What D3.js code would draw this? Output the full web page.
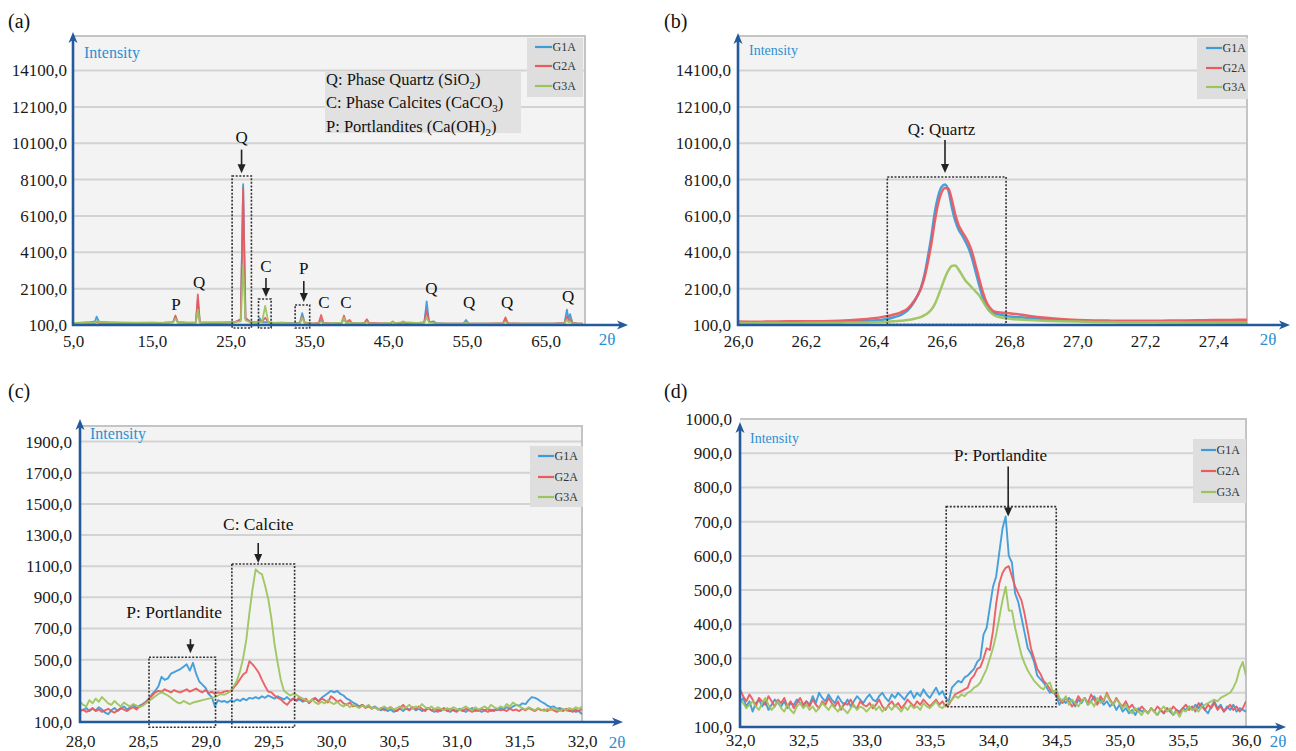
<!DOCTYPE html>
<html><head><meta charset="utf-8">
<script src="https://cdn.jsdelivr.net/npm/d3@7"></script>
<style>
body{margin:0;background:#fff;}
svg{display:block;}
text{font-family:"Liberation Serif","Tinos","Times New Roman",serif;}
</style></head><body>
<svg id="chart" width="1296" height="751"></svg>
<script>
// ---------------- DATA ----------------
const seriesNames = ["G1A","G2A","G3A"];

// (a) full pattern 5-70 2θ
const aTheta = [5,6,7,7.8,8,8.3,9.5,11,13,15, 16.5,17.7,18,18.3,19.5,20.6,20.85,21.1,22.5,24, 25.5,26.3,26.6,26.9,27.5,28.4,28.7,29,29.4,29.8, 30.5,31.5,33,33.8,34.1,34.4,35.5,36.2,36.5,36.8, 38,39.1,39.4,39.7,40.1,40.4,41.5,42,42.3,42.6, 44,45.3,45.6,45.9,46.6,46.9,47.2,48.5,49.6,49.9, 50.2,50.8,51.1,52.5,54.6,54.9,55.2,57.5,59.6,59.9, 60.2,62,64,66,67.4,67.7,67.9,68.1,68.4,69, 69.7];
const aG1A = [200,230,250,300,560,280,240,220,210,220, 230,260,560,250,230,240,1500,240,220,230, 250,400,7850,450,260,230,480,250,260,240, 210,230,200,230,750,240,180,200,380,200, 190,220,420,220,250,200,190,210,300,200, 180,200,250,200,210,240,220,200,240,1400, 260,300,200,180,190,380,190,170,190,380, 190,170,180,170,200,950,450,700,220,180, 170];
const aG2A = [180,190,200,220,260,210,200,190,200,190, 200,250,620,240,210,230,1780,230,210,220, 240,420,7650,500,270,220,310,280,500,250, 200,190,180,200,570,230,180,220,650,210, 180,230,620,240,380,210,180,220,420,210, 190,190,300,190,200,250,210,190,250,900, 280,260,190,170,180,250,180,170,200,520, 200,180,170,180,220,560,350,420,230,190, 180];
const aG3A = [220,210,220,240,320,250,260,240,230,240, 220,240,460,230,220,250,950,240,260,250, 260,300,3400,350,250,250,260,260,1150,260, 220,210,190,190,510,220,170,190,300,190, 200,230,500,210,240,200,200,200,280,190, 180,210,280,200,240,300,260,210,230,500, 240,220,190,180,190,260,180,180,190,300, 180,170,180,170,190,400,250,280,200,180, 170];
const aXTicks = [5,15,25,35,45,55,65];
const aYTicks = [100,2100,4100,6100,8100,10100,12100,14100];

// (b) quartz peak 26-27.5
const bTheta = [26,26.05,26.1,26.15,26.2,26.25,26.3,26.35,26.4,26.43, 26.46,26.48,26.5,26.52,26.53,26.54,26.55,26.56,26.57,26.58, 26.59,26.6,26.61,26.62,26.63,26.64,26.65,26.66,26.67,26.68, 26.69,26.7,26.71,26.72,26.73,26.74,26.75,26.76,26.78,26.8, 26.83,26.86,26.9,26.95,27,27.05,27.1,27.15,27.2,27.25, 27.3,27.35,27.4,27.45,27.5];
const bG1A = [230,240,235,245,250,260,270,300,350,400, 530,660,900,1400,1750,2200,2900,3900,5000,6300, 7200,7700,7830,7500,6600,5850,5350,5050,4700,4300, 3750,3050,2350,1700,1200,900,780,720,640,570, 520,480,430,370,330,300,290,280,275,270, 265,260,260,255,255];
const bG2A = [290,280,290,300,300,310,340,390,470,560, 680,800,1000,1450,1750,2150,2750,3600,4600,5800, 6800,7400,7640,7600,7000,6200,5600,5250,4950,4600, 4100,3400,2700,2000,1450,1100,900,820,780,740, 680,600,510,430,380,350,340,335,330,340, 345,355,370,380,390];
const bG3A = [220,215,220,210,220,225,230,235,250,270, 300,330,370,440,490,550,640,760,950,1250, 1700,2200,2700,3100,3350,3380,3150,2850,2550,2350, 2150,1950,1750,1450,1150,900,700,590,500,450, 400,370,340,310,290,270,260,255,250,245, 245,240,240,240,240];
const bXTicks = [26,26.2,26.4,26.6,26.8,27,27.2,27.4];
const bYTicks = [100,2100,4100,6100,8100,10100,12100,14100];

// (c) 28-32
const cTheta = [28,28.025,28.05,28.075,28.1,28.125,28.15,28.175,28.2,28.225,28.25,28.275,28.3,28.325,28.35,28.375,28.4,28.425,28.45,28.475,
28.5,28.525,28.55,28.575,28.6,28.625,28.65,28.675,28.7,28.725,28.75,28.775,28.8,28.825,28.85,28.875,28.9,28.925,28.95,28.975,
29,29.025,29.05,29.075,29.1,29.125,29.15,29.175,29.2,29.225,29.25,29.275,29.3,29.325,29.35,29.375,29.4,29.425,29.45,29.475,
29.5,29.525,29.55,29.575,29.6,29.625,29.65,29.675,29.7,29.725,29.75,29.775,29.8,29.825,29.85,29.875,29.9,29.925,29.95,29.975,
30,30.025,30.05,30.075,30.1,30.125,30.15,30.175,30.2,30.225,30.25,30.275,30.3,30.325,30.35,30.375,30.4,30.425,30.45,30.475,
30.5,30.525,30.55,30.575,30.6,30.625,30.65,30.675,30.7,30.725,30.75,30.775,30.8,30.825,30.85,30.875,30.9,30.925,30.95,30.975,
31,31.025,31.05,31.075,31.1,31.125,31.15,31.175,31.2,31.225,31.25,31.275,31.3,31.325,31.35,31.375,31.4,31.425,31.45,31.475,
31.5,31.525,31.55,31.575,31.6,31.625,31.65,31.675,31.7,31.725,31.75,31.775,31.8,31.825,31.85,31.875,31.9,31.925,31.95,31.975,
32];
const cG1A = [180,175,190,170,185,175,195,180,160,150,175,190,170,185,200,180,195,210,190,205,
215,230,250,280,300,330,390,370,380,410,420,430,440,455,470,430,480,410,360,340,
320,280,260,200,240,230,235,225,240,230,245,235,250,240,255,250,260,250,265,255,
270,260,250,265,255,245,260,240,250,235,245,230,240,225,240,250,235,255,270,285,
300,290,300,280,270,250,240,225,215,200,210,195,205,190,200,185,175,190,170,180,
165,175,185,170,190,180,195,175,185,170,180,190,175,165,180,170,185,175,165,180,
170,185,175,165,180,190,170,180,165,175,185,170,180,175,190,180,195,185,200,210,
205,220,215,240,260,255,245,230,220,205,195,200,185,190,180,175,170,180,165,170,
150];
const cG2A = [170,180,165,175,190,170,180,165,175,185,170,160,175,190,180,170,185,195,180,200,
210,225,250,270,290,300,295,310,300,290,305,295,290,300,310,295,305,315,300,290,
305,285,295,280,290,285,295,300,295,320,345,375,405,420,490,470,445,415,370,330,
295,290,270,255,245,225,210,235,250,240,260,235,250,220,245,255,230,250,240,225,
265,250,230,240,220,210,225,200,205,195,210,190,200,185,195,180,190,175,185,195,
180,170,190,210,185,175,195,180,200,185,170,190,175,185,165,180,190,170,185,175,
165,180,170,185,175,165,180,170,185,175,165,180,170,185,175,180,170,185,175,180,
170,185,175,190,180,170,185,175,180,170,185,175,165,180,170,185,175,165,180,170,
185];
const cG3A = [230,210,200,240,220,250,230,260,240,220,210,235,215,200,225,210,200,215,205,195,
205,220,235,250,265,280,290,280,270,255,240,225,220,235,225,215,225,230,235,240,
245,250,255,260,270,280,275,285,300,330,365,425,510,627,800,955,1080,1060,1048,975,
890,765,600,480,370,300,285,270,280,275,260,250,240,230,245,225,215,230,220,240,
225,215,230,210,200,215,195,210,200,190,205,195,210,185,195,180,190,200,185,195,
180,190,200,185,195,210,185,200,190,215,195,185,200,180,195,185,175,190,180,195,
185,175,190,200,185,175,195,180,190,200,185,210,195,185,200,190,215,200,225,210,
200,190,180,195,185,175,190,180,170,185,175,190,180,170,185,175,190,180,195,185,
200];
const cXTicks = [28,28.5,29,29.5,30,30.5,31,31.5,32];
const cYTicks = [100,300,500,700,900,1100,1300,1500,1700,1900];

// (d) 32-36
const dTheta = [32,32.025,32.05,32.075,32.1,32.125,32.15,32.175,32.2,32.225,32.25,32.275,32.3,32.325,32.35,32.375,32.4,32.425,32.45,32.475,
32.5,32.525,32.55,32.575,32.6,32.625,32.65,32.675,32.7,32.725,32.75,32.775,32.8,32.825,32.85,32.875,32.9,32.925,32.95,32.975,
33,33.025,33.05,33.075,33.1,33.125,33.15,33.175,33.2,33.225,33.25,33.275,33.3,33.325,33.35,33.375,33.4,33.425,33.45,33.475,
33.5,33.525,33.55,33.575,33.6,33.625,33.65,33.675,33.7,33.725,33.75,33.775,33.8,33.825,33.85,33.875,33.9,33.925,33.95,33.975,
34,34.025,34.05,34.075,34.1,34.125,34.15,34.175,34.2,34.225,34.25,34.275,34.3,34.325,34.35,34.375,34.4,34.425,34.45,34.475,
34.5,34.525,34.55,34.575,34.6,34.625,34.65,34.675,34.7,34.725,34.75,34.775,34.8,34.825,34.85,34.875,34.9,34.925,34.95,34.975,
35,35.025,35.05,35.075,35.1,35.125,35.15,35.175,35.2,35.225,35.25,35.275,35.3,35.325,35.35,35.375,35.4,35.425,35.45,35.475,
35.5,35.525,35.55,35.575,35.6,35.625,35.65,35.675,35.7,35.725,35.75,35.775,35.8,35.825,35.85,35.875,35.9,35.925,35.95,35.975,
36];
const dG1A = [170,185,160,175,145,170,180,160,175,150,165,180,170,160,175,155,170,165,180,170,
160,175,165,190,170,200,185,175,195,180,170,190,175,165,180,160,175,190,180,170,
185,195,180,175,190,200,185,175,195,185,200,190,180,195,205,185,200,190,210,195,
185,200,215,195,205,185,175,215,225,235,230,245,250,260,270,290,300,370,390,450,
510,540,610,680,715,600,580,490,465,420,375,330,315,290,250,240,230,215,200,205,
190,165,180,170,185,175,160,180,170,185,165,175,190,170,180,165,175,160,170,150,
165,145,155,140,150,135,155,145,150,140,155,145,135,150,140,155,145,135,150,145,
155,150,160,150,165,155,170,150,140,160,175,155,165,145,160,150,165,145,155,150,
145];
const dG2A = [210,190,175,195,180,160,185,175,165,190,175,160,180,170,185,160,175,155,170,185,
165,175,160,180,165,155,175,165,185,170,160,175,150,170,165,180,160,155,175,165,
160,170,155,165,180,160,150,165,175,160,170,155,165,180,170,160,175,165,180,170,
160,170,180,165,175,160,165,180,195,200,205,210,215,240,250,270,275,300,330,325,
380,460,520,550,565,570,540,510,490,470,430,380,330,300,270,255,235,225,210,200,
195,180,170,185,175,160,170,190,175,185,170,195,180,165,190,175,200,180,165,185,
170,160,175,155,165,150,145,160,150,140,155,145,160,150,140,155,145,160,150,140,
155,165,150,160,145,170,160,150,165,155,170,150,160,145,155,165,150,160,145,155,
175];
const dG3A = [180,170,155,165,175,160,150,170,185,165,150,160,175,155,145,165,150,140,160,170,
155,165,150,160,145,155,170,160,150,165,155,145,160,150,140,155,165,150,160,155,
145,155,165,150,160,145,155,160,150,165,155,145,160,150,165,155,160,150,170,160,
155,165,175,160,155,165,170,180,190,185,195,190,200,205,215,220,230,250,270,300,
330,370,420,470,510,440,440,390,350,310,285,265,250,235,225,215,210,225,230,200,
210,185,175,190,165,180,170,160,175,185,165,175,160,185,170,180,195,175,165,180,
170,155,165,150,140,155,145,135,150,140,155,145,135,150,160,145,155,135,145,130,
150,145,160,150,155,145,160,165,170,175,180,175,185,190,195,200,215,235,270,290,
250];
const dXTicks = [32,32.5,33,33.5,34,34.5,35,35.5,36];
const dYTicks = [100,200,300,400,500,600,700,800,900,1000];

// ---------------- STYLE / LAYOUT ----------------
const colors = {G1A:"#3d9bd7", G2A:"#ea5a5f", G3A:"#9cc45e"};
const axisColor = "#245a9c";
const blue = "#2e8fd0";
const serif = '"Liberation Serif","Tinos","Times New Roman",serif';
const fmt = v => d3.format(".1f")(v).replace(".", ",");

const panels = [
 {label:"(a)", lab:[8,21], theta:aTheta, series:[aG1A,aG2A,aG3A], xDomain:[5,70], yDomain:[100,16000],
  xRange:[73,585], yRange:[325,36], xTicks:aXTicks, yTicks:aYTicks, yTip:32, xTip:628, yPad:6, xPad:10,
  intensity:[84,58,16], twoTheta:[607,345], lw:1.8, curve:d3.curveLinear,
  legend:{x:527,y:38,w:56,h:59,l1:535,l2:552,rows:[47,66,86]},
  boxes:[[25.2,27.65,-65,8300],[28.55,30.15,-65,1530],[33.2,35.05,-65,1200]],
  texts:[["P",18.08,1255],["Q",21.0,2465],["Q",26.4,10440],["C",29.5,3345],["P",34.3,3235],["C",36.87,1365],["C",39.66,1365],["Q",50.5,2135],["Q",55.3,1365],["Q",60.1,1365],["Q",67.85,1695]],
  arrows:[[26.4,9750,8450],[29.5,2685,1640],[34.3,2520,1365]], textSize:17},
 {label:"(b)", lab:[664,21], theta:bTheta, series:[bG1A,bG2A,bG3A], xDomain:[26,27.5], yDomain:[100,16000],
  xRange:[738,1247], yRange:[325,36], xTicks:bXTicks, yTicks:bYTicks, yTip:33, xTip:1290, yPad:7, xPad:10,
  intensity:[749,55,14], twoTheta:[1268,345], lw:2.5, curve:d3.curveMonotoneX,
  legend:{x:1197,y:38,w:51,h:61,l1:1206,l2:1222,rows:[48,68,87]},
  boxes:[[26.44,26.79,120,8240]],
  texts:[["Q: Quartz",26.6,10880]],
  arrows:[[26.61,10276,8460]], textSize:17},
 {label:"(c)", lab:[8,391], theta:cTheta, series:[cG1A,cG2A,cG3A], xDomain:[28,32], yDomain:[100,2000],
  xRange:[80,582], yRange:[722,426], xTicks:cXTicks, yTicks:cYTicks, yTip:419, xTip:623, yPad:8, xPad:12.5,
  intensity:[90,439,16], twoTheta:[617,748], lw:1.9, curve:d3.curveLinear,
  legend:{x:530,y:446,w:53,h:61,l1:538,l2:554,rows:[456,477,497]},
  boxes:[[29.21,29.71,66,1114],[28.55,29.08,66,516]],
  texts:[["C: Calcite",29.42,1371],["P: Portlandite",28.75,805]],
  arrows:[[29.42,1249,1120],[28.88,632,542]], textSize:17.5},
 {label:"(d)", lab:[664,391], theta:dTheta, series:[dG1A,dG2A,dG3A], xDomain:[32,36], yDomain:[100,1000],
  xRange:[740,1246], yRange:[727,419], xTicks:dXTicks, yTicks:dYTicks, yTip:422, xTip:1286, yPad:8, xPad:6.5,
  intensity:[750,443,14], twoTheta:[1278,747], lw:1.9, curve:d3.curveLinear,
  legend:{x:1193,y:439,w:53,h:64,l1:1201,l2:1216,rows:[450,471,492]},
  boxes:[[33.63,34.5,159,744]],
  texts:[["P: Portlandite",34.06,896]],
  arrows:[[34.12,861,715]], textSize:17}
];

const svg = d3.select("#chart").style("font-family", serif);
const defs = svg.append("defs");

panels.forEach((p, pi) => {
  const x = d3.scaleLinear().domain(p.xDomain).range(p.xRange);
  const y = d3.scaleLinear().domain(p.yDomain).range(p.yRange);
  const [x0, x1] = p.xRange, [yb, yt] = p.yRange;
  const g = svg.append("g");

  g.append("rect").attr("x", x0).attr("y", yt).attr("width", x1 - x0).attr("height", yb - yt).attr("fill", "#f3f3f3");
  g.selectAll("line.grid").data(p.yTicks.filter(t => t > p.yDomain[0] && t < p.yDomain[1])).join("line")
    .attr("x1", x0).attr("x2", x1).attr("y1", d => y(d)).attr("y2", d => y(d))
    .attr("stroke", "#d3d3d3").attr("stroke-width", 2);
  g.append("path").attr("d", `M${x0},${yt}H${x1}V${yb}`).attr("fill", "none").attr("stroke", "#c4c4c4").attr("stroke-width", 2);

  if (pi === 0) {
    g.append("rect").attr("x", 325).attr("y", 71).attr("width", 196).attr("height", 62).attr("fill", "#e1e1e1");
    const lines = [["Q: Phase Quartz (SiO","2",")"],["C: Phase Calcites (CaCO","3",")"],["P: Portlandites (Ca(OH)","2",")"]];
    const rowsY = [79, 102, 126];
    lines.forEach((l, i) => {
      const t = g.append("text").attr("x", 326).attr("y", rowsY[i]).attr("dy", "0.35em").attr("font-size", 16.5)
        .attr("font-family", serif).attr("fill", "#111");
      t.append("tspan").text(l[0]);
      t.append("tspan").attr("dy", 4).attr("font-size", 11).text(l[1]);
      t.append("tspan").attr("dy", -4).text(l[2]);
    });
  }

  const L = p.legend;
  g.append("rect").attr("x", L.x).attr("y", L.y).attr("width", L.w).attr("height", L.h).attr("fill", "#dedede");
  seriesNames.forEach((s, i) => {
    g.append("line").attr("x1", L.l1).attr("x2", L.l2).attr("y1", L.rows[i]).attr("y2", L.rows[i])
      .attr("stroke", colors[s]).attr("stroke-width", 2.2);
    g.append("text").attr("x", L.l2 + 0.5).attr("y", L.rows[i]).attr("dy", "0.35em").attr("font-family", serif)
      .attr("font-size", 12).attr("fill", "#333").text(s);
  });

  const cid = "clip" + pi;
  defs.append("clipPath").attr("id", cid).append("rect").attr("x", x0).attr("y", yt).attr("width", x1 - x0).attr("height", yb - yt);
  const lg = g.append("g").attr("clip-path", `url(#${cid})`);
  p.series.forEach((vals, si) => {
    const pts = p.theta.map((t, i) => [t, vals[i]]);
    lg.append("path").datum(pts)
      .attr("d", d3.line().x(d => x(d[0])).y(d => y(d[1])).curve(p.curve))
      .attr("fill", "none").attr("stroke", colors[seriesNames[si]]).attr("stroke-width", p.lw)
      .attr("stroke-linejoin", "round").attr("opacity", 0.95);
  });

  p.boxes.forEach(b => {
    g.append("rect").attr("x", x(b[0])).attr("y", y(b[3])).attr("width", x(b[1]) - x(b[0])).attr("height", y(b[2]) - y(b[3]))
      .attr("fill", "none").attr("stroke", "#333").attr("stroke-width", 1.6).attr("stroke-dasharray", "2,1.6");
  });
  p.texts.forEach(t => {
    g.append("text").attr("x", x(t[1])).attr("y", y(t[2])).attr("dy", "0.35em").attr("text-anchor", "middle")
      .attr("font-family", serif).attr("font-size", p.textSize).attr("fill", "#111").text(t[0]);
  });
  p.arrows.forEach(a => {
    const ax = x(a[0]), ay0 = y(a[1]), ay1 = y(a[2]);
    g.append("line").attr("x1", ax).attr("x2", ax).attr("y1", ay0).attr("y2", ay1 - 6).attr("stroke", "#222").attr("stroke-width", 1.6);
    g.append("path").attr("d", `M${ax - 4},${ay1 - 9}L${ax},${ay1}L${ax + 4},${ay1 - 9}Z`).attr("fill", "#222");
  });

  const ya = g.append("g").attr("transform", `translate(${x0},0)`)
    .call(d3.axisLeft(y).tickValues(p.yTicks).tickFormat(fmt).tickSize(0).tickPadding(p.yPad));
  ya.attr("font-family", serif);
  ya.select(".domain").remove();
  ya.selectAll("text").attr("font-size", 17).attr("fill", "#1a1a1a");
  const xa = g.append("g").attr("transform", `translate(0,${yb})`)
    .call(d3.axisBottom(x).tickValues(p.xTicks).tickFormat(fmt).tickSize(0).tickPadding(p.xPad));
  xa.attr("font-family", serif);
  xa.select(".domain").remove();
  xa.selectAll("text").attr("font-size", 17).attr("fill", "#1a1a1a");

  g.append("line").attr("x1", x0).attr("x2", x0).attr("y1", yb + 1).attr("y2", p.yTip + 8).attr("stroke", axisColor).attr("stroke-width", 2.6);
  g.append("path").attr("d", `M${x0 - 4.5},${p.yTip + 11}L${x0},${p.yTip}L${x0 + 4.5},${p.yTip + 11}L${x0},${p.yTip + 8}Z`).attr("fill", axisColor);
  g.append("line").attr("x1", x0 - 1).attr("x2", p.xTip - 8).attr("y1", yb).attr("y2", yb).attr("stroke", axisColor).attr("stroke-width", 2.6);
  g.append("path").attr("d", `M${p.xTip - 11},${yb - 4.5}L${p.xTip},${yb}L${p.xTip - 11},${yb + 4.5}L${p.xTip - 8},${yb}Z`).attr("fill", axisColor);

  g.append("text").attr("x", p.intensity[0]).attr("y", p.intensity[1]).attr("font-family", serif).attr("font-size", p.intensity[2]).attr("fill", blue).text("Intensity");
  g.append("text").attr("x", p.twoTheta[0]).attr("y", p.twoTheta[1]).attr("text-anchor", "middle").attr("font-family", serif).attr("font-size", 17).attr("fill", blue).text("2θ");

  svg.append("text").attr("x", p.lab[0]).attr("y", p.lab[1]).attr("dy", "0.35em").attr("font-family", serif).attr("font-size", 20).attr("fill", "#111").text(p.label);
});
</script>
</body></html>
